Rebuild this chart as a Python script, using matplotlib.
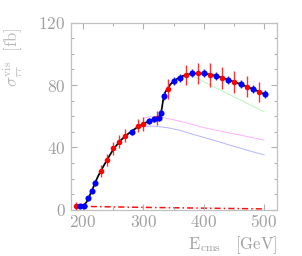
import matplotlib
matplotlib.use("Agg")
import matplotlib.pyplot as plt
from matplotlib.ticker import FixedLocator, MultipleLocator, FixedFormatter

plt.rcParams['mathtext.fontset'] = 'cm'
plt.rcParams['font.family'] = ['DejaVu Serif']

# ---- data ----
# red data points (large errors)
e_red = [188, 230, 239, 249, 259, 270, 291, 300, 322, 340, 371, 390, 411, 431, 451, 471, 491]
s_red = [2.6, 25.0, 31.9, 39.4, 43.6, 47.5, 53.9, 55.0, 58.8, 77.3, 86.5, 87.5, 86.5, 84.7, 82.2, 78.9, 75.7]
err_red = [2.5, 3.8, 4.0, 4.3, 4.3, 4.3, 4.0, 4.2, 4.5, 6.5, 6.4, 6.6, 7.5, 7.0, 7.0, 6.8, 6.4]

# blue data points (small errors)
e_blue = [195, 201, 209, 214, 219, 281, 310, 317, 326, 330, 335, 350, 360, 381, 400, 421, 441, 461, 481, 501]
s_blue = [2.6, 2.6, 7.3, 12.0, 16.9, 49.7, 56.9, 58.0, 59.0, 62.3, 73.0, 82.6, 84.7, 87.5, 87.5, 85.8, 83.2, 80.7, 77.3, 74.1]
err_blue = [1.2, 1.2, 1.4, 1.5, 1.6, 2.0, 2.0, 2.0, 2.0, 2.0, 2.3, 2.5, 2.5, 2.5, 2.5, 2.5, 2.5, 2.5, 2.5, 2.5]

# total (black) curve
e_tot = [190, 195, 200, 203, 206, 210, 215, 220, 225, 230, 240, 250, 260, 270, 280, 290, 300, 310,
         320, 326, 329, 331, 333, 336, 340, 345, 350, 360, 370, 380, 390, 400, 410, 420, 430, 440,
         450, 460, 470, 480, 490, 500]
s_tot = [2.6, 2.6, 2.8, 3.5, 5.0, 8.3, 12.6, 17.3, 21.6, 25.3, 32.2, 38.6, 43.6, 47.3, 50.2, 53.0,
         55.2, 57.0, 58.5, 59.6, 61.5, 66.0, 71.0, 75.2, 77.8, 80.5, 82.5, 85.0, 86.5, 87.3, 87.5,
         87.3, 86.8, 85.9, 84.8, 83.5, 82.1, 80.7, 79.2, 77.6, 76.0, 74.2]

# component curves
e_bl = [280, 290, 300, 310, 320, 340, 360, 380, 400, 420, 440, 460, 480, 500]
s_bl = [50.2, 52.3, 53.3, 53.7, 53.6, 52.6, 51.0, 48.6, 46.4, 44.2, 41.8, 39.6, 37.3, 35.2]

e_pk = [300, 310, 320, 340, 360, 380, 400, 420, 440, 460, 480, 500]
s_pk = [58.8, 59.5, 59.8, 58.6, 56.8, 54.8, 52.7, 51.0, 49.4, 47.9, 46.3, 44.7]

e_gr = [375, 390, 400, 420, 440, 460, 480, 500]
s_gr = [86.5, 84.3, 82.0, 78.2, 74.4, 70.6, 66.7, 62.8]

e_dd = [190, 250, 300, 350, 400, 450, 500]
s_dd = [2.2, 1.8, 1.5, 1.25, 1.0, 0.75, 0.5]

x_ticks = [200, 300, 400, 500]
y_ticks = [0, 40, 80, 120]

# ---- figure ----
fig = plt.figure(figsize=(3.02, 2.56), dpi=100)
ax = fig.add_axes([71/302, 1-209.7/256, (277-71)/302, (209.7-22.7)/256])

ax.plot(e_bl, s_bl, color='#b4b4ff', lw=0.7, zorder=1)
ax.plot(e_pk, s_pk, color='#ffb0ff', lw=0.7, zorder=1)
ax.plot(e_gr, s_gr, color='#b8f4b8', lw=0.7, zorder=1)
ax.plot(e_dd, s_dd, color='#ff1010', lw=1.1, dashes=(4, 2, 1, 2), zorder=1)
ax.plot(e_tot, s_tot, color='black', lw=1.25, zorder=2)

ax.errorbar(e_red, s_red, yerr=err_red, fmt='o', color='#ff0000', ecolor='#ff3030',
            elinewidth=1.0, capsize=0, markersize=4.0, markeredgewidth=0, zorder=3)
ax.errorbar(e_blue, s_blue, yerr=err_blue, fmt='o', color='#0000ff', ecolor='#3030ff',
            elinewidth=1.0, capsize=0, markersize=4.4, markeredgewidth=0, zorder=4)

ax.set_xlim(180, 521.5)
ax.set_ylim(0, 120)

ax.xaxis.set_major_locator(FixedLocator(x_ticks))
ax.xaxis.set_minor_locator(MultipleLocator(50))
ax.yaxis.set_major_locator(FixedLocator(y_ticks))
ax.yaxis.set_minor_locator(MultipleLocator(10))
ax.xaxis.set_major_formatter(FixedFormatter([r'$\mathrm{%d}$' % v for v in x_ticks]))
ax.yaxis.set_major_formatter(FixedFormatter([r'$\mathrm{%d}$' % v for v in y_ticks]))

tick_col = '#b0b0b0'
ax.tick_params(which='both', direction='in', top=True, right=True, color=tick_col, width=0.8)
ax.tick_params(which='major', length=4, labelsize=12.5, labelcolor='#a0a0a0')
ax.tick_params(which='minor', length=2.2)
ax.tick_params(axis='x', which='major', pad=3)
ax.tick_params(axis='y', which='major', pad=4)
for sp in ax.spines.values():
    sp.set_color('#c0c0c0')
    sp.set_linewidth(0.9)

fig.text(13/302, 1-57/256, r'$\sigma_{\tau\tau}^{\rm vis}\ \ [\rm fb]$', rotation=90,
         ha='center', va='center', fontsize=12, color='#b8b8b8')
fig.text(277/302, 1-245/256, r'$\mathrm{E}_{\rm cms}\ \ \ [\mathrm{GeV}]$',
         ha='right', va='center', fontsize=12, color='#a0a0a0')

fig.savefig('out.png', dpi=100)
